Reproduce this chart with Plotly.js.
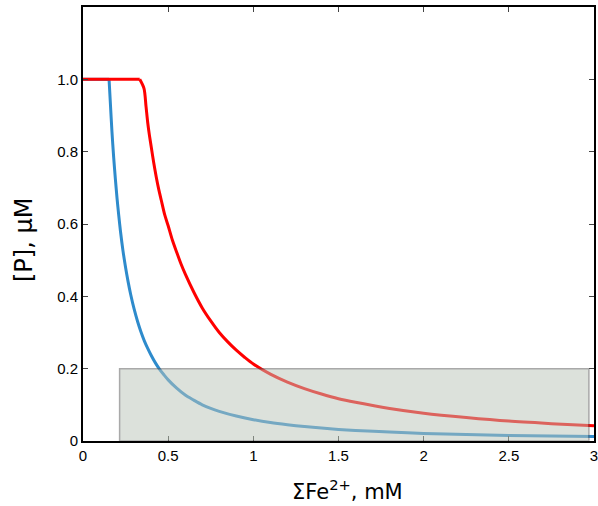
<!DOCTYPE html>
<html>
<head>
<meta charset="utf-8">
<script src="https://cdn.plot.ly/plotly-3.0.1.min.js"></script>
<style>html,body{margin:0;padding:0;background:#fff;}#chart{width:598px;height:506px;}</style>
</head>
<body>
<div id="chart"></div>
<script>
// Blue curve (lower threshold)
const blueX = [0, 0.153, 0.16, 0.17, 0.18, 0.19, 0.2, 0.21, 0.22, 0.235, 0.25, 0.265, 0.28, 0.3, 0.32, 0.34, 0.36, 0.38, 0.4, 0.425, 0.45, 0.475, 0.5, 0.55, 0.6, 0.65, 0.7, 0.75, 0.8, 0.9, 1.0, 1.1, 1.2, 1.3, 1.4, 1.5, 1.6, 1.8, 2.0, 2.25, 2.5, 2.75, 3.0];
const blueY = [1.0, 1.0, 0.94, 0.855, 0.785, 0.725, 0.67, 0.623, 0.58, 0.525, 0.48, 0.44, 0.405, 0.365, 0.331, 0.302, 0.277, 0.256, 0.237, 0.216, 0.198, 0.183, 0.169, 0.146, 0.127, 0.113, 0.1, 0.09, 0.082, 0.069, 0.059, 0.051, 0.045, 0.04, 0.036, 0.032, 0.029, 0.025, 0.021, 0.018, 0.0155, 0.014, 0.0125];
// Red curve (higher threshold)
const redX = [0, 0.333, 0.358, 0.37, 0.38, 0.39, 0.4, 0.415, 0.43, 0.445, 0.46, 0.48, 0.5, 0.525, 0.55, 0.575, 0.6, 0.65, 0.7, 0.75, 0.8, 0.85, 0.9, 0.95, 1.0, 1.1, 1.2, 1.3, 1.4, 1.5, 1.6, 1.8, 2.0, 2.25, 2.5, 2.75, 3.0];
const redY = [1.0, 1.0, 0.975, 0.925, 0.88, 0.845, 0.815, 0.77, 0.73, 0.695, 0.665, 0.625, 0.595, 0.555, 0.522, 0.49, 0.462, 0.412, 0.368, 0.332, 0.3, 0.274, 0.251, 0.231, 0.213, 0.185, 0.163, 0.145, 0.13, 0.117, 0.107, 0.09, 0.077, 0.065, 0.055, 0.048, 0.042];
// Shaded region
const regionX = [0.215, 2.97];
const regionY = [0, 0.2];
// Ticks
const xTickVals = [0, 0.5, 1, 1.5, 2, 2.5, 3];
const xTickText = ["0", "0.5", "1", "1.5", "2", "2.5", "3"];
const yTickVals = [0, 0.2, 0.4, 0.6, 0.8, 1.0];
const yTickText = ["0", "0.2", "0.4", "0.6", "0.8", "1.0"];
// Titles
const xTitle = 'ΣFe<sup>2+</sup>, mM';
const yTitle = '[P], μM';

// flat plateau drawn straight, decay drawn smooth
function parts(xs, ys, color) {
  return [
    {x: xs.slice(0, 2), y: ys.slice(0, 2), mode: 'lines', line: {color: color, width: 3}, hoverinfo: 'skip'},
    {x: xs.slice(1), y: ys.slice(1), mode: 'lines', line: {color: color, width: 3, shape: 'spline', smoothing: 0.8}, hoverinfo: 'skip'}
  ];
}
const traces = parts(blueX, blueY, '#2e8bcc').concat(parts(redX, redY, '#ff0000'));

const font = {family: '"Liberation Sans", Arial, sans-serif', color: '#000'};
const tfont = {family: '"DejaVu Sans", sans-serif', color: '#000'};
const layout = {
  width: 598, height: 506,
  margin: {l: 83, r: 4, t: 7, b: 65},
  paper_bgcolor: '#fff', plot_bgcolor: '#fff',
  showlegend: false,
  font: Object.assign({size: 15}, font),
  xaxis: {
    range: [0, 3], tickvals: xTickVals, ticktext: xTickText,
    ticks: 'inside', ticklen: 5, tickwidth: 1, tickcolor: '#444',
    showline: true, linecolor: '#000', linewidth: 2, mirror: 'ticks',
    showgrid: false, zeroline: false, ticklabeloverflow: 'allow',
    tickfont: Object.assign({size: 15}, font)
  },
  yaxis: {
    range: [0, 1.2], tickvals: yTickVals, ticktext: yTickText,
    ticks: 'inside', ticklen: 5, tickwidth: 1, tickcolor: '#444',
    showline: true, linecolor: '#000', linewidth: 2, mirror: 'ticks',
    showgrid: false, zeroline: false,
    tickfont: Object.assign({size: 15}, font)
  },
  annotations: [
    {text: xTitle, xref: 'paper', yref: 'paper', x: 0.518, y: -0.113,
     xanchor: 'center', yanchor: 'middle', showarrow: false,
     font: Object.assign({size: 21}, tfont)},
    {text: yTitle, xref: 'paper', yref: 'paper', x: -0.1155, y: 0.463,
     xanchor: 'center', yanchor: 'middle', showarrow: false, textangle: -90,
     font: Object.assign({size: 24}, tfont)}
  ],
  shapes: [{
    type: 'rect', xref: 'x', yref: 'y',
    x0: regionX[0], x1: regionX[1], y0: regionY[0], y1: regionY[1],
    fillcolor: 'rgb(187,197,185)', opacity: 0.5,
    line: {color: 'rgb(85,85,85)', width: 1.5}, layer: 'above'
  }]
};

Plotly.newPlot('chart', traces, layout, {displayModeBar: false, staticPlot: true});
</script>
</body>
</html>
